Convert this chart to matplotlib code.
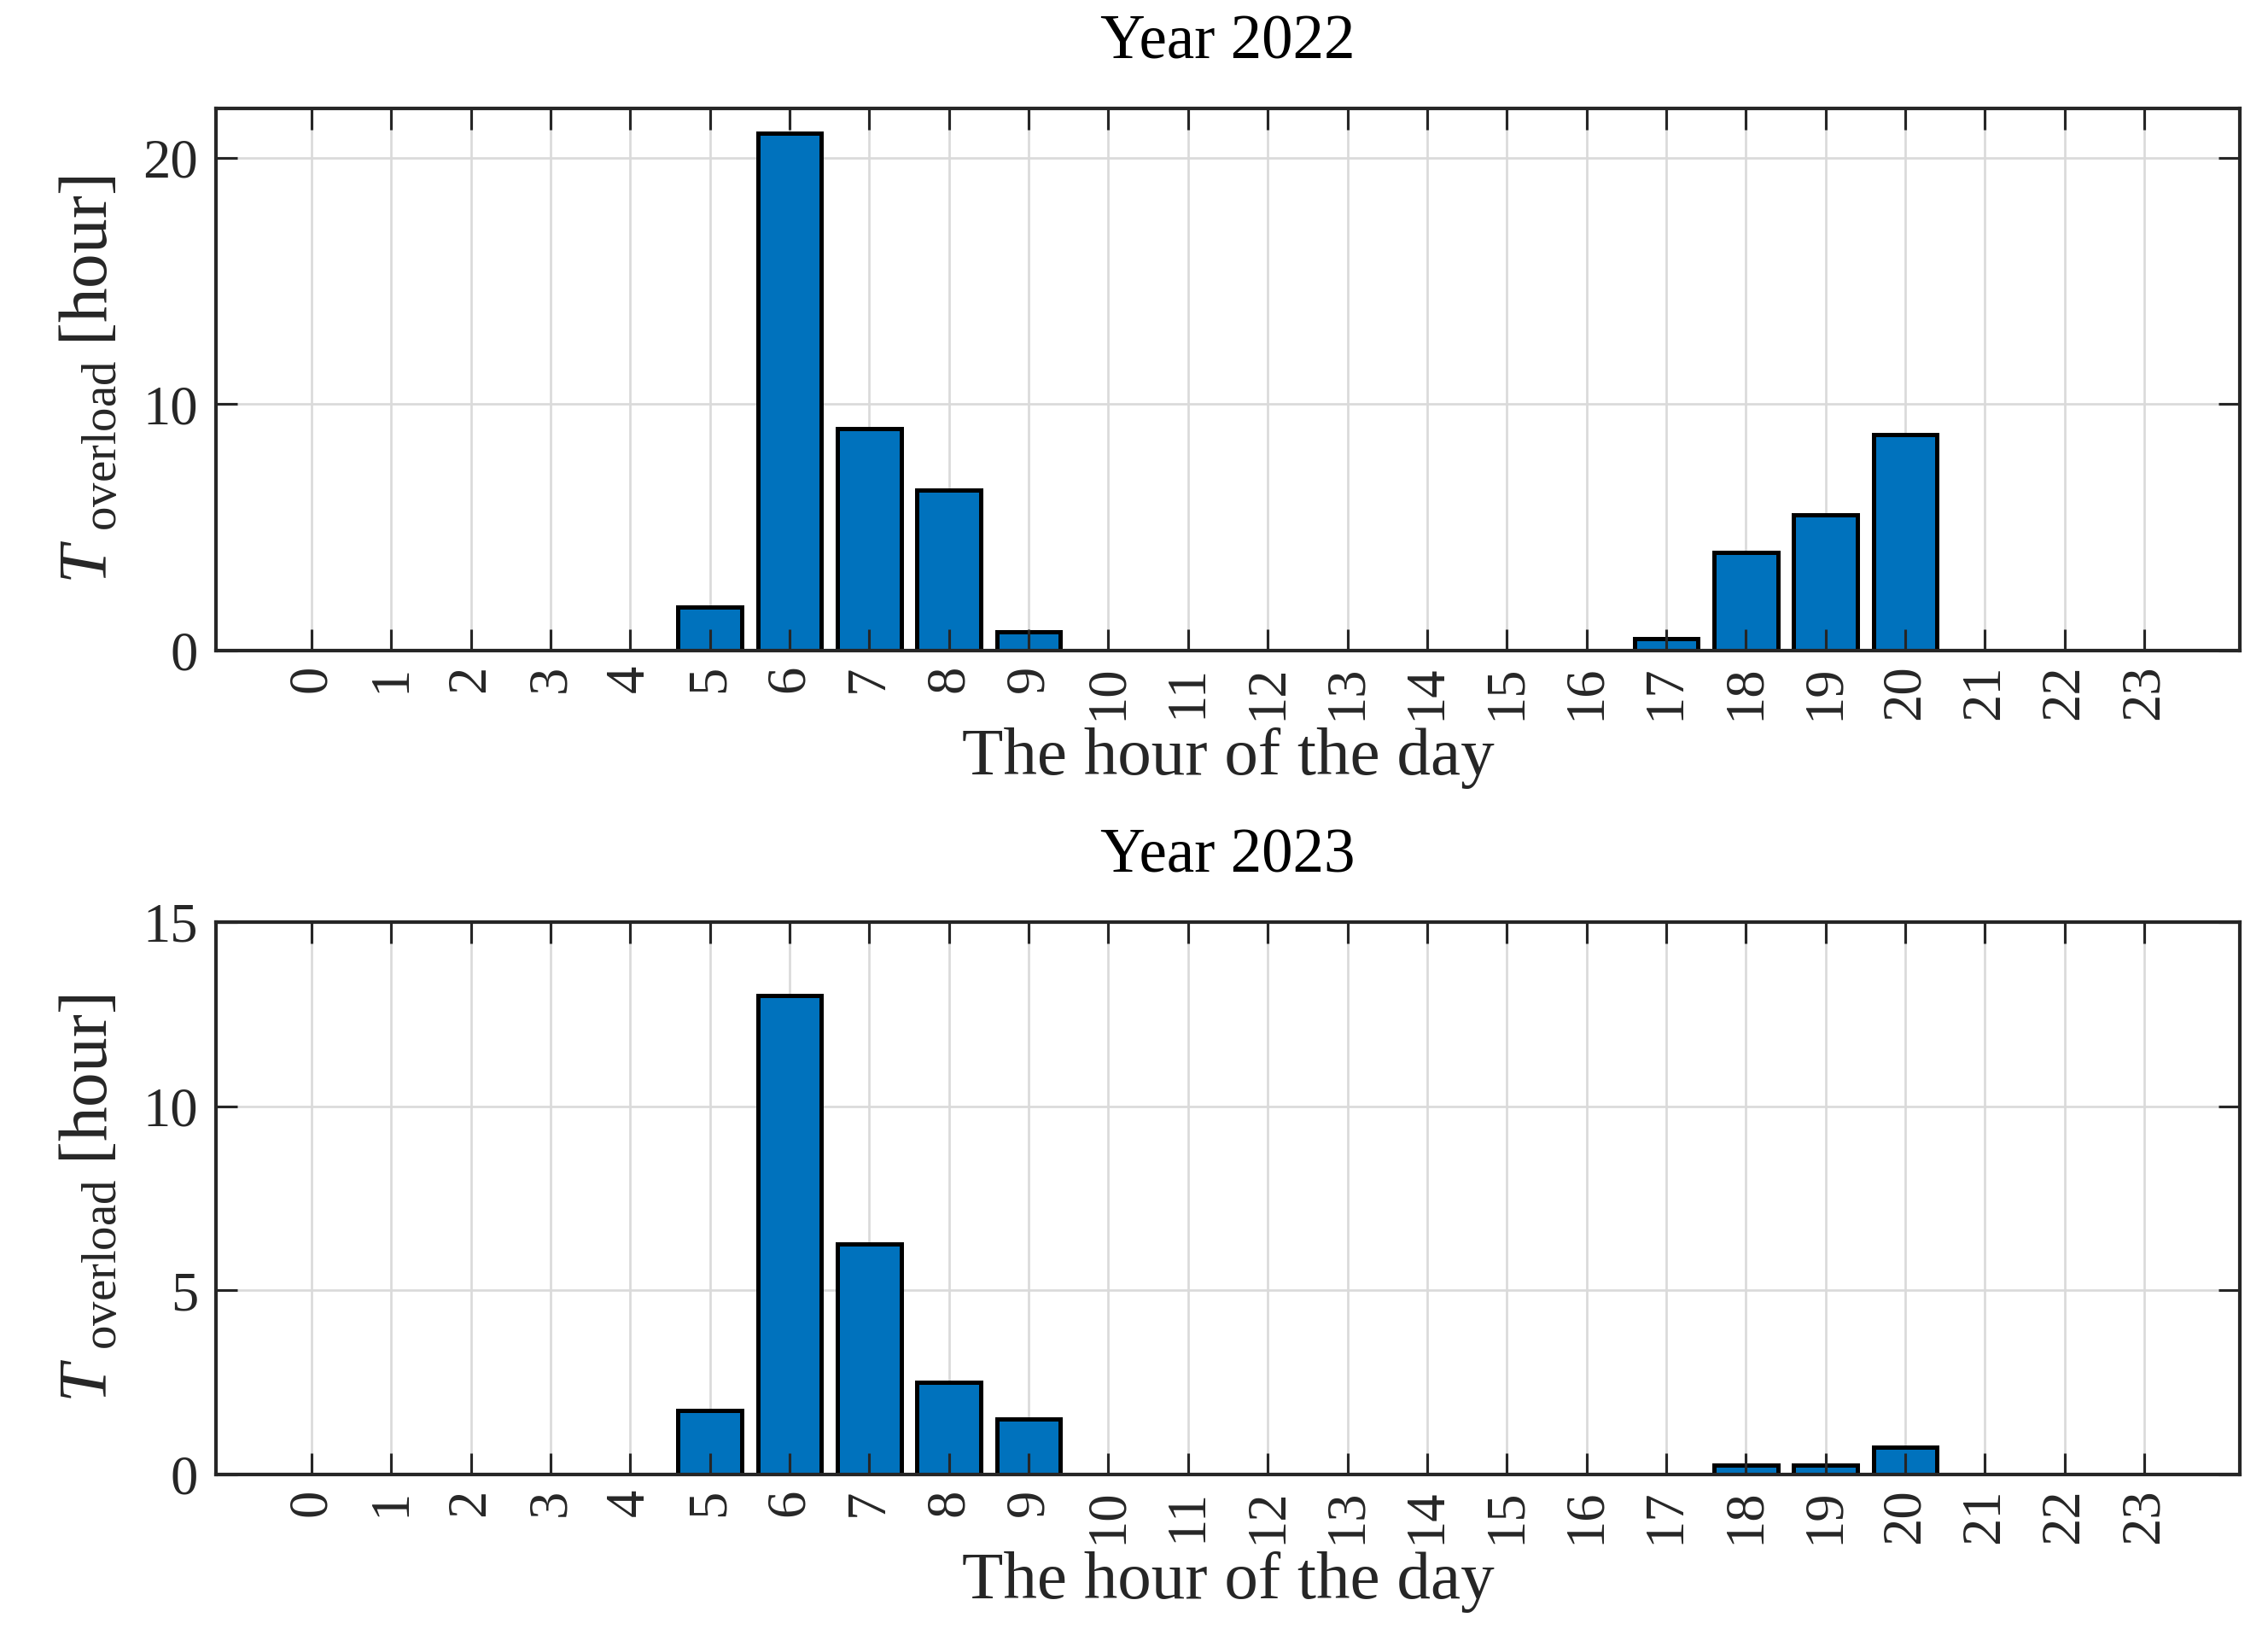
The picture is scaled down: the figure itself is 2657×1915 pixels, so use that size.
import matplotlib
matplotlib.use('Agg')
import matplotlib.pyplot as plt

plt.rcParams['font.family'] = ['Liberation Serif', 'DejaVu Serif']
plt.rcParams['mathtext.fontset'] = 'custom'
plt.rcParams['mathtext.rm'] = 'Liberation Serif'
plt.rcParams['mathtext.it'] = 'Liberation Serif:italic'

hours = list(range(24))
hour_labels = [str(h) for h in hours]

# overload hours per hour of day
t_2022 = [0, 0, 0, 0, 0, 1.75, 21, 9, 6.5, 0.75, 0, 0,
          0, 0, 0, 0, 0, 0.5, 4, 5.5, 8.75, 0, 0, 0]
t_2023 = [0, 0, 0, 0, 0, 1.75, 13, 6.25, 2.5, 1.5, 0, 0,
          0, 0, 0, 0, 0, 0, 0.25, 0.25, 0.75, 0, 0, 0]

years = ['Year 2022', 'Year 2023']
yticks_2022 = [0, 10, 20]
yticks_2023 = [0, 5, 10, 15]
ylims = [22, 15]

BAR_COLOR = '#0072BD'
GRID_COLOR = '#dadada'
AX_COLOR = '#262626'

W, H = 2657, 1915
fig = plt.figure(figsize=(W / 300, H / 300), dpi=300)


def draw_panel(rect, values, title, yticks, ytop):
    ax = fig.add_axes(rect)
    ax.set_xlim(-1.2, 24.2)
    ax.set_ylim(0, ytop)
    # grid behind the bars, ticks on top of them (like matlab)
    ax.vlines(hours, 0, 1, transform=ax.get_xaxis_transform(),
              color=GRID_COLOR, lw=0.65, zorder=0.5)
    ax.hlines(yticks, 0, 1, transform=ax.get_yaxis_transform(),
              color=GRID_COLOR, lw=0.65, zorder=0.5)
    ax.bar(hours, values, width=0.8, color=BAR_COLOR, edgecolor='black',
           linewidth=1.2, zorder=1)
    ax.set_xticks(hours)
    ax.set_xticklabels(hour_labels, rotation=90)
    ax.set_yticks(yticks)
    ax.tick_params(direction='in', length=6, width=0.75, top=True, right=True,
                   colors=AX_COLOR, labelsize=15.5)
    ax.tick_params(axis='x', pad=4)
    ax.tick_params(axis='y', pad=5)
    for s in ax.spines.values():
        s.set_linewidth(1.0)
        s.set_color(AX_COLOR)
        s.set_zorder(3)
    ax.set_title(title, fontsize=17.5, color='black', pad=14)
    ax.set_xlabel('The hour of the day', fontsize=19, color=AX_COLOR, labelpad=2)
    ax.set_ylabel(r'$T\;_{\mathrm{overload}}\;$[hour]', fontsize=19.5,
                  color=AX_COLOR, labelpad=6)
    return ax


draw_panel([253 / W, 1 - 762 / H, (2624 - 253) / W, (762 - 127) / H],
           t_2022, years[0], yticks_2022, ylims[0])
draw_panel([253 / W, 1 - 1727 / H, (2624 - 253) / W, (1727 - 1080) / H],
           t_2023, years[1], yticks_2023, ylims[1])

fig.savefig('out.png', dpi=300, facecolor='white')
